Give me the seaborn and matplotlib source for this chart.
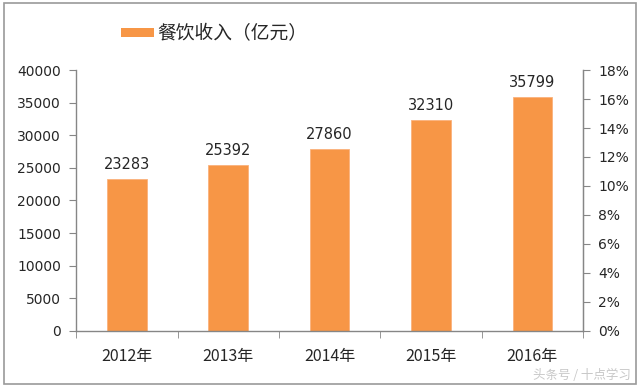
import pandas as pd
import seaborn as sns
from matplotlib import pyplot as plt
from matplotlib.patches import Rectangle, Patch
from matplotlib.ticker import PercentFormatter, FixedLocator

years = ['2012年', '2013年', '2014年', '2015年', '2016年']
revenue = [23283, 25392, 27860, 32310, 35799]
legend_label = '餐饮收入（亿元）'
left_ticks = [0, 5000, 10000, 15000, 20000, 25000, 30000, 35000, 40000]
right_ticks = [0, 0.02, 0.04, 0.06, 0.08, 0.10, 0.12, 0.14, 0.16, 0.18]

sns.set_style('white')
plt.rcParams['font.family'] = ['Noto Sans CJK SC', 'DejaVu Sans']

orange = '#F79646'
gray = '#868686'

df = pd.DataFrame({'year': years, 'revenue': revenue})

fig = plt.figure(figsize=(6.4, 3.87), dpi=100)
ax = fig.add_axes([0.119, 0.145, 0.792, 0.674])

sns.barplot(data=df, x='year', y='revenue', color=orange, width=0.39,
            saturation=1, edgecolor='#FAB27C', linewidth=0.6, ax=ax)
ax.bar_label(ax.containers[0], fontsize=10.5, padding=5, family='DejaVu Sans')

ax.set_ylim(0, 40000)
ax.set_xlim(-0.5, 4.5)
ax.set_yticks(left_ticks)
ax.set_xlabel('')
ax.set_ylabel('')
ax.tick_params(axis='y', direction='out', length=5, color=gray, labelsize=10, pad=6, left=True)
ax.tick_params(axis='x', which='major', length=0, labelsize=11.5, pad=12)
ax.xaxis.set_minor_locator(FixedLocator([-0.5, 0.5, 1.5, 2.5, 3.5, 4.5]))
ax.tick_params(axis='x', which='minor', direction='out', length=5, color=gray, bottom=True)
for lab in ax.get_yticklabels():
    lab.set_family('DejaVu Sans')

ax.spines['top'].set_visible(False)
for s in ['left', 'bottom', 'right']:
    ax.spines[s].set_color(gray)
    ax.spines[s].set_linewidth(1)

ax2 = ax.twinx()
ax2.set_ylim(0, 0.18)
ax2.set_yticks(right_ticks)
ax2.yaxis.set_major_formatter(PercentFormatter(1.0, decimals=0))
ax2.tick_params(axis='y', direction='out', length=5, color=gray, labelsize=10, pad=6, right=True)
for lab in ax2.get_yticklabels():
    lab.set_family('DejaVu Sans')
ax2.spines['top'].set_visible(False)
ax2.spines['left'].set_visible(False)
ax2.spines['bottom'].set_visible(False)
ax2.spines['right'].set_color(gray)

fig.legend(handles=[Patch(facecolor=orange, edgecolor='none', label=legend_label)],
           loc='center left', bbox_to_anchor=(0.163, 0.913), frameon=False,
           fontsize=13.5, handlelength=1.75, handleheight=0.37, handletextpad=0.2)

fig.text(0.985, 0.031, '头条号 / 十点学习', ha='right', va='center',
         fontsize=9, color='#C8C8C8')

fig.patches.append(Rectangle((0.006, 0.008), 0.988, 0.984, transform=fig.transFigure,
                             fill=False, edgecolor='#9A9A9A', linewidth=1.2))

fig.savefig('out.png', dpi=100)
